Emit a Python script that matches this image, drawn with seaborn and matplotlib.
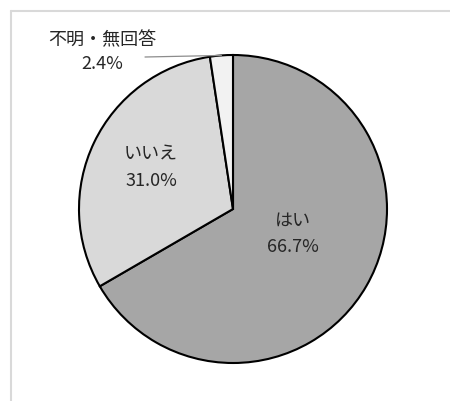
import matplotlib
matplotlib.use("Agg")
import matplotlib.pyplot as plt
import seaborn as sns
from matplotlib.lines import Line2D

# Survey answers
categories = ["はい", "いいえ", "不明・無回答"]
shares = [66.7, 31.0, 2.4]
slice_colors = ["#a6a6a6", "#d9d9d9", "#f2f2f2"]

sns.set_theme(style="white")
plt.rcParams["font.family"] = ["Noto Sans CJK JP", "DejaVu Sans"]

W, H = 450, 401
fig = plt.figure(figsize=(W / 100, H / 100), dpi=100)
fig.patch.set_facecolor("white")

# Axes spanning the whole figure, in pixel units (y upward)
ax = fig.add_axes([0, 0, 1, 1])
ax.set_axis_off()

cx, cy, r = 233, 192, 154
wedges, _ = ax.pie(
    shares,
    colors=slice_colors,
    startangle=90,
    counterclock=False,
    center=(cx, cy),
    radius=r,
    wedgeprops=dict(edgecolor="black", linewidth=1.5),
)
ax.set_xlim(0, W)
ax.set_ylim(0, H)
ax.set_aspect("equal")

text_kw = dict(ha="center", va="center", fontsize=13, color="#262626")

# Labels inside the two large slices
ax.text(293, 180, categories[0], **text_kw)
ax.text(293, 154, f"{shares[0]:.1f}%", **text_kw)
ax.text(151, 246, categories[1], **text_kw)
ax.text(151, 220, f"{shares[1]:.1f}%", **text_kw)

# Small slice labelled outside with a leader line
ax.text(102, 361, categories[2], **text_kw)
ax.text(102, 337, f"{shares[2]:.1f}%", **text_kw)
w = wedges[2]
import numpy as np
mid = np.deg2rad((w.theta1 + w.theta2) / 2)
ax.plot([145, cx + r * np.cos(mid)], [344, cy + r * np.sin(mid)],
        color="#8c8c8c", linewidth=0.9)

# Light frame around the chart area
fig.add_artist(Line2D([11 / W, 1], [1 - 11 / H, 1 - 11 / H],
                      transform=fig.transFigure, color="#d9d9d9", linewidth=1.5))
fig.add_artist(Line2D([11 / W, 11 / W], [0, 1 - 11 / H],
                      transform=fig.transFigure, color="#d9d9d9", linewidth=1.5))

fig.savefig("out.png", dpi=100)
